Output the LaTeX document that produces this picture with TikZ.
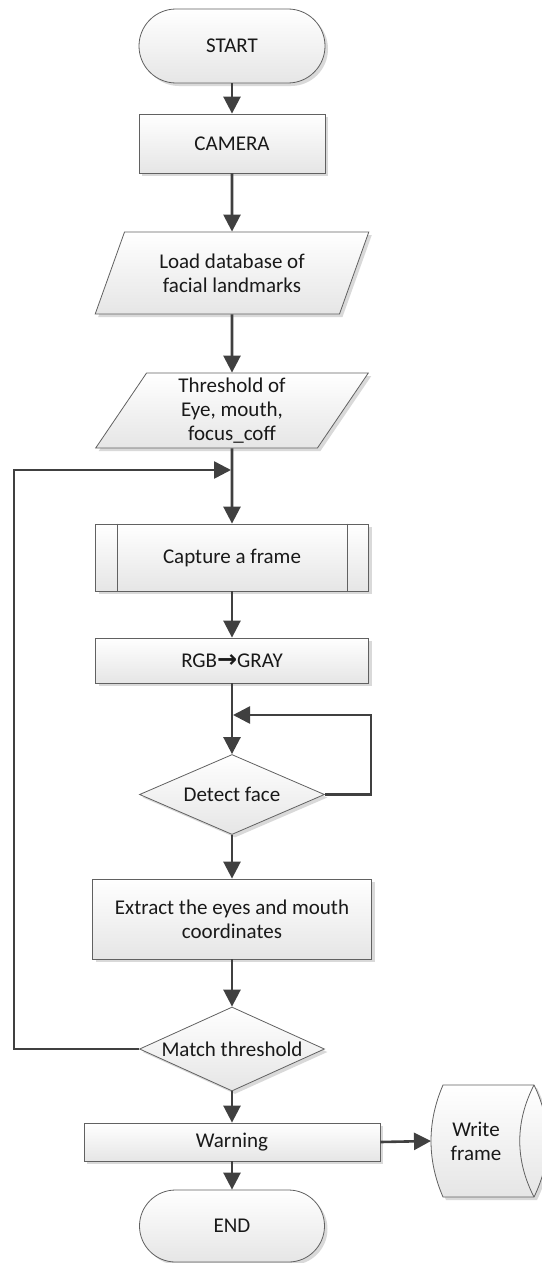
\documentclass[tikz,border=0pt]{standalone}
\usepackage{fontspec}
\setmainfont{Carlito}
\newfontfamily\symf{DejaVu Sans}
\usetikzlibrary{arrows.meta,shapes.geometric,shadows,calc}
\begin{document}
\begin{tikzpicture}[x=1pt,y=-1pt,
  base/.style={draw=black!62, line width=0.8pt, top color=white, bottom color=black!10,
    drop shadow={shadow xshift=3pt,shadow yshift=-3pt,fill=black!15,opacity=1},
    text=black!90, align=center, font=\fontsize{21}{24}\selectfont, inner sep=2pt},
  term/.style={base, rectangle, rounded corners=#1},
  procbox/.style={base, rectangle},
  iobox/.style={base, trapezium, trapezium left angle=64.5, trapezium right angle=115.5, trapezium stretches=true},
  decision/.style={base, diamond, aspect=2.3, inner sep=0pt},
  outline/.style={draw=black!62, line width=0.8pt},
  arr/.style={draw=black!75, line width=2.6pt, -{Triangle[length=17pt,width=17pt]}}
]
\useasboundingbox (0,0) rectangle (541,1263);

% nodes
\node[term=37pt, minimum width=186pt, minimum height=74pt] (start) at (232,46) {START};
\node[procbox, minimum width=186pt, minimum height=59pt] (cam) at (232,143.5) {CAMERA};
\node[iobox, minimum width=274pt, minimum height=82pt] (load) at (232,273) {Load database of\\facial landmarks};
\node[iobox, minimum width=273pt, minimum height=75pt] (thr) at (232,410.5) {Threshold of\\Eye, mouth,\\focus\_coff};
\node[procbox, minimum width=273pt, minimum height=67pt] (cap) at (232,557.5) {Capture a frame};
\draw[outline] ([xshift=22pt]cap.north west) -- ([xshift=22pt]cap.south west);
\draw[outline] ([xshift=-22pt]cap.north east) -- ([xshift=-22pt]cap.south east);
\node[procbox, minimum width=273pt, minimum height=45pt] (rgb) at (232,660.5) {RGB{\symf\bfseries\fontsize{24}{24}\selectfont\raisebox{-0.5pt}{→}}GRAY};
\node[decision, minimum width=185pt, minimum height=80pt] (det) at (232,794.5) {Detect face};
\node[procbox, minimum width=279pt, minimum height=80pt] (ext) at (232,919) {Extract the eyes and mouth\\coordinates};
\node[decision, minimum width=185pt, minimum height=84pt] (match) at (232,1049) {Match threshold};
\node[procbox, minimum width=296pt, minimum height=38pt] (warn) at (232,1142) {Warning};
\node[term=36pt, minimum width=185pt, minimum height=72pt] (end) at (232,1226) {END};

% stored data shape (Write frame): horizontal cylinder
\begin{scope}[shift={(3,3)}]
\fill[black!15] (443,1085) -- (534,1085) .. controls (552,1122) and (552,1160) .. (534,1197)
  -- (443,1197) .. controls (427,1160) and (427,1122) .. (443,1085) -- cycle;
\end{scope}
\draw[outline, top color=white, bottom color=black!10]
  (443,1085) -- (534,1085) .. controls (552,1122) and (552,1160) .. (534,1197)
  -- (443,1197) .. controls (427,1160) and (427,1122) .. (443,1085) -- cycle;
\draw[outline] (534,1085) .. controls (515,1122) and (515,1160) .. (534,1197);
\node[text=black!90, align=center, font=\fontsize{21}{24}\selectfont, minimum width=90pt, minimum height=112pt, inner sep=0pt] (wf) at (476,1141) {Write\\frame};
\coordinate (wfl) at (431,1141);

% loop coordinates
\coordinate (j1) at (231,470);
\coordinate (lft) at (14,470);
\coordinate (j2) at (233,715);
\coordinate (rt) at (371,715);

% connectors
\draw[arr] (start) -- (cam);
\draw[arr] (cam) -- (load);
\draw[arr] (load) -- (thr);
\draw[arr] (thr) -- (cap);
\draw[arr] (cap) -- (rgb);
\draw[arr] (rgb) -- (det);
\draw[arr] (det.east) -| (rt) -- (j2);
\draw[arr] (det) -- (ext);
\draw[arr] (ext) -- (match);
\draw[arr] (match.west) -| (lft) -- (j1);
\draw[arr] (match) -- (warn);
\draw[arr] (warn) -- (end);
\draw[arr] (warn.east) -- (wfl);
\end{tikzpicture}
\end{document}
